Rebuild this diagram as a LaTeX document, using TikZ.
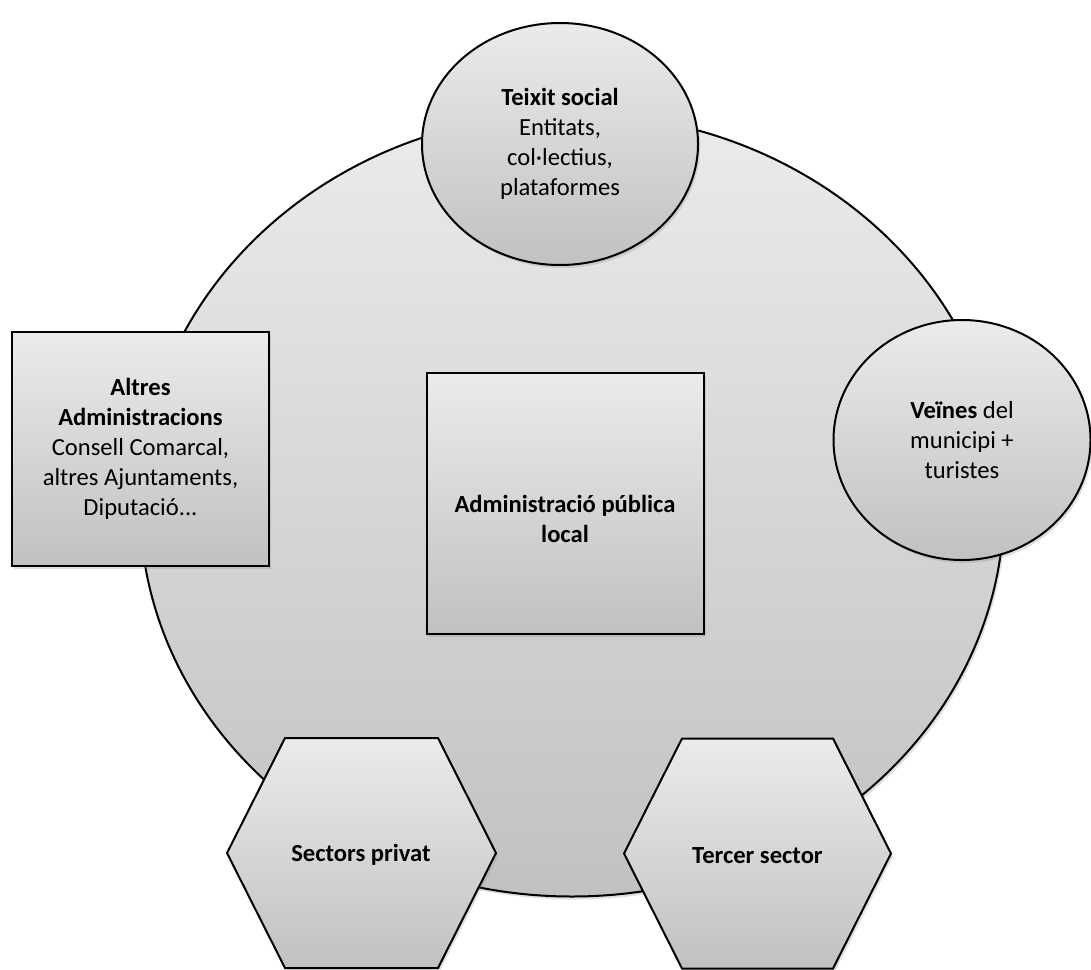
\documentclass[tikz,border=0pt]{standalone}
\usepackage{fontspec}
\setmainfont{Carlito}
\usetikzlibrary{shapes.geometric,shadows}
\definecolor{shadetop}{HTML}{EBEBEB}
\definecolor{shadebot}{HTML}{C1C1C1}

\begin{document}
\begin{tikzpicture}[
  x=1pt, y=-1pt,
  every node/.style={font=\fontsize{24.6}{30}\selectfont, align=center, inner sep=0pt},
  shaded/.style={draw=black, line width=2pt, top color=shadetop, bottom color=shadebot,
    drop shadow={opacity=0.25, shadow xshift=2pt, shadow yshift=-3pt}},
  bubble/.style={shaded, ellipse},
  card/.style={shaded, rectangle},
  hexa/.style={shaded, line join=miter}
]
\useasboundingbox (0,0) rectangle (1091,969);

\node[bubble, minimum width=864pt, minimum height=783pt] (area) at (572,505) {};

\node[bubble, minimum width=276pt, minimum height=242pt] (teixit) at (560,144)
  {\textbf{Teixit social}\\Entitats,\\col·lectius,\\plataformes};
\node[bubble, minimum width=257pt, minimum height=240pt] (veines) at (962,440)
  {\textbf{Veïnes} del\\municipi +\\turistes};

\node[card, minimum width=257pt, minimum height=234pt] (altres) at (140.5,449)
  {\textbf{Altres}\\\textbf{Administracions}\\Consell Comarcal,\\altres Ajuntaments,\\Diputació...};
\node[card, minimum width=277pt, minimum height=261pt] (apl) at (565,503.5) {};
\node (apl text) at ([yshift=-15pt]apl.center) {\textbf{Administració pública}\\\textbf{local}};

\coordinate (privat) at (361,853);
\coordinate (tercer) at (757.5,853.5);
\path[hexa] (privat) ++(-134,0) -- ++(58,-115) -- ++(153,0) -- ++(58,115)
  -- ++(-58,115) -- ++(-153,0) -- cycle;
\path[hexa] (tercer) ++(-133.5,0) -- ++(58,-115) -- ++(151,0) -- ++(58,115)
  -- ++(-58,115) -- ++(-151,0) -- cycle;
\node (privat text) at ([yshift=-2pt]privat) {\textbf{Sectors privat}};
\node (tercer text) at ([yshift=-2pt]tercer) {\textbf{Tercer sector}};

\end{tikzpicture}
\end{document}
